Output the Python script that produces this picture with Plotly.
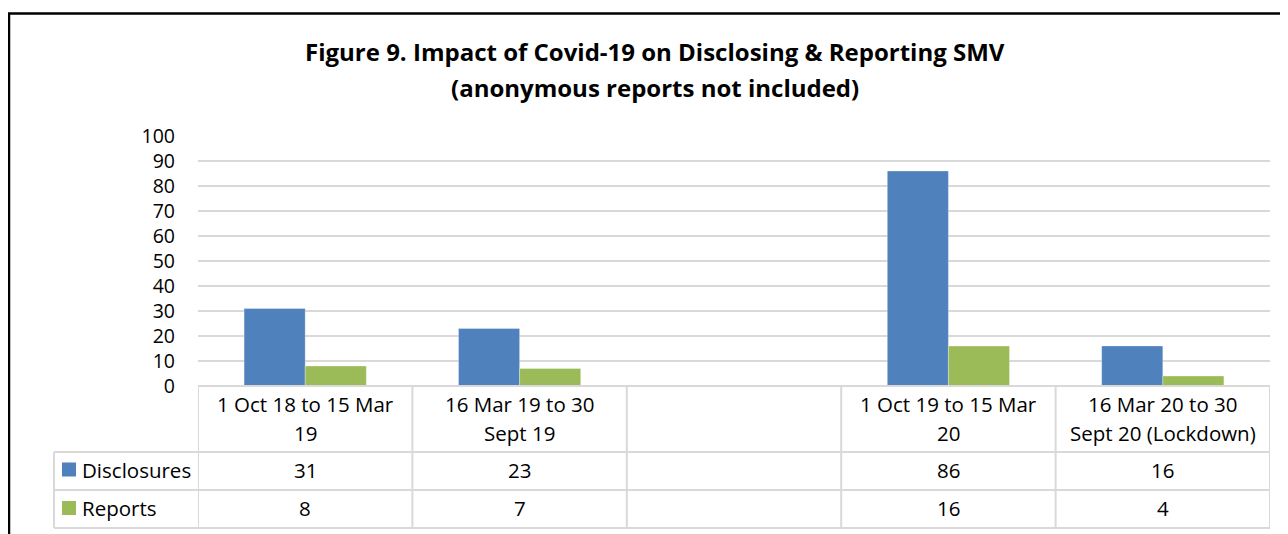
import plotly.graph_objects as go

# ---- data ----
categories = ["c1", "c2", "blank", "c3", "c4"]
cat_label_lines = [
    ["1 Oct 18 to 15 Mar", "19"],
    ["16 Mar 19 to 30", "Sept 19"],
    ["", ""],
    ["1 Oct 19 to 15 Mar", "20"],
    ["16 Mar 20 to 30", "Sept 20 (Lockdown)"],
]
disclosures = [31, 23, None, 86, 16]
reports = [8, 7, None, 16, 4]
series_names = ["Disclosures", "Reports"]
colors = ["#4F81BD", "#9BBB59"]
title_lines = ["Figure 9. Impact of Covid-19 on Disclosing & Reporting SMV",
               "(anonymous reports not included)"]

# page has an 8px body margin; figure is laid out in window pixel terms
OFF = 8
W, H = 1288 - OFF, 534 - OFF
L, R, T, B = 198, 1270, 136, 386   # window pixels of plot area
FONT = "Open Sans"
GRID = "#d9d9d9"
TXT = 20.5


def px(x):
    return (x - L) / (R - L)


def py(y):
    return (B - y) / (B - T)


fig = go.Figure()
for name, vals, col in zip(series_names, [disclosures, reports], colors):
    fig.add_trace(go.Bar(x=categories, y=vals, name=name,
                         marker=dict(color=col, line=dict(color="rgba(255,255,255,0.6)", width=0.5))))

shapes = []
ann = []

# outer chart border (top and left)
shapes.append(dict(type="line", xref="paper", yref="paper", x0=px(8), x1=px(1300), y0=py(13.5), y1=py(13.5),
                   line=dict(color="black", width=2.5)))
shapes.append(dict(type="line", xref="paper", yref="paper", x0=px(9), x1=px(9), y0=py(13), y1=py(540),
                   line=dict(color="black", width=2.5)))

# data table lines
row_y = [B, 452, 490, 528]
shapes.append(dict(type="line", xref="paper", yref="paper", x0=0, x1=1, y0=py(B), y1=py(B),
                   line=dict(color=GRID, width=2)))
for yy in row_y[1:]:
    shapes.append(dict(type="line", xref="paper", yref="paper", x0=px(54), x1=1, y0=py(yy), y1=py(yy),
                       line=dict(color=GRID, width=2)))
shapes.append(dict(type="line", xref="paper", yref="paper", x0=px(54), x1=px(54), y0=py(452), y1=py(528),
                   line=dict(color=GRID, width=2)))
for i in range(len(categories) + 1):
    shapes.append(dict(type="line", xref="x", yref="paper", x0=i - 0.5, x1=i - 0.5, y0=py(B), y1=py(528),
                       line=dict(color=GRID, width=2)))

# header labels
for cat, lines in zip(categories, cat_label_lines):
    for j, ln in enumerate(lines):
        if ln:
            ann.append(dict(x=cat, xref="x", y=py(404 + 29 * j), yref="paper", text=ln, showarrow=False,
                            font=dict(family=FONT, size=TXT, color="black"), xanchor="center", yanchor="middle"))

# value rows + legend keys
for r, (name, vals, col) in enumerate(zip(series_names, [disclosures, reports], colors)):
    yc = 469.5 + 38.5 * r
    shapes.append(dict(type="rect", xref="paper", yref="paper", x0=px(62), x1=px(76), y0=py(yc - 7), y1=py(yc + 7),
                       fillcolor=col, line=dict(width=0)))
    ann.append(dict(x=px(80), xref="paper", y=py(yc), yref="paper", text=name, showarrow=False,
                    font=dict(family=FONT, size=TXT, color="black"), xanchor="left", yanchor="middle"))
    for cat, v in zip(categories, vals):
        if v is not None:
            ann.append(dict(x=cat, xref="x", y=py(yc), yref="paper", text=str(v), showarrow=False,
                            font=dict(family=FONT, size=TXT, color="black"), xanchor="center", yanchor="middle"))

# title
for j, t in enumerate(title_lines):
    ann.append(dict(x=px(655), xref="paper", y=py(52 + 35 * j), yref="paper", text="<b>%s</b>" % t,
                    showarrow=False, font=dict(family=FONT, size=24, color="black"),
                    xanchor="center", yanchor="middle"))

fig.update_layout(
    width=W, height=H,
    margin=dict(l=L - OFF, r=W - (R - OFF), t=T - OFF, b=H - (B - OFF), pad=0),
    plot_bgcolor="white", paper_bgcolor="white",
    barmode="group", bargap=0.43, bargroupgap=0,
    showlegend=False,
    font=dict(family=FONT, size=19.5, color="black"),
    xaxis=dict(type="category", categoryorder="array", categoryarray=categories, range=[-0.5, 4.5],
               showticklabels=False, showgrid=False, zeroline=False, showline=False, ticks=""),
    yaxis=dict(range=[0, 100], dtick=10, showgrid=True, gridcolor=GRID, gridwidth=2,
               zeroline=False, showline=False, ticks="", ticklabelstandoff=22,
               tickfont=dict(family=FONT, size=19.5, color="black")),
    shapes=shapes,
    annotations=ann,
)

fig.write_html("out.html")
